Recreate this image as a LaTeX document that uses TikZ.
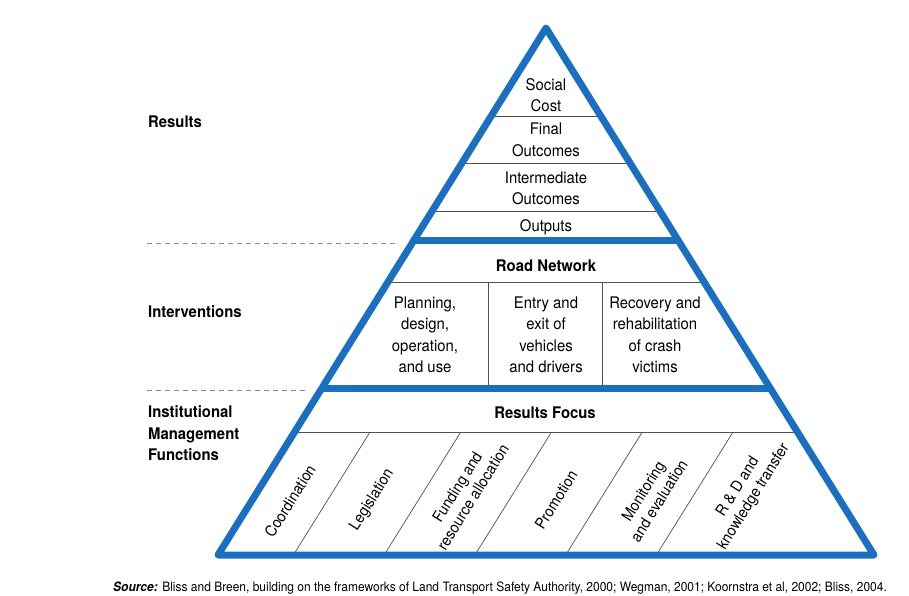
\documentclass[tikz,border=0pt]{standalone}
\usepackage{fontspec}
\setmainfont[FakeStretch=0.93]{TeX Gyre Heros}
\usetikzlibrary{calc}
\definecolor{pyrblue}{HTML}{1B6FC0}
\definecolor{rulegray}{HTML}{505050}
\definecolor{dashgray}{HTML}{8C8C8C}

\begin{document}
\begin{tikzpicture}[x=1pt, y=-1pt,
  every node/.style={font=\fontsize{16}{21.5}\selectfont, align=center, inner sep=0pt},
  sidelabel/.style={font=\fontsize{16}{21.5}\selectfont\bfseries, align=left, anchor=west},
  slanted/.style={rotate=58, font=\fontsize{15.5}{18.5}\selectfont},
  thinrule/.style={rulegray, line width=0.7pt},
  levelrule/.style={dashgray, line width=0.6pt, dash pattern=on 5pt off 4pt},
  pyrline/.style={pyrblue, line width=7pt, line join=round}]

  \useasboundingbox (0,0) rectangle (909,595);

  % ---- Pyramid corners ----
  \coordinate (apex) at (546,28);
  \coordinate (baseL) at (218,555);
  \coordinate (baseR) at (874,555);

  % ---- Thin rules inside the levels ----
  % Results: four stacked bands
  \draw[thinrule] ($(apex)!0.167!(baseL)$) -- ($(apex)!0.167!(baseR)$);
  \draw[thinrule] ($(apex)!0.2562!(baseL)$) -- ($(apex)!0.2562!(baseR)$);
  \draw[thinrule] ($(apex)!0.3472!(baseL)$) -- ($(apex)!0.3472!(baseR)$);

  % Interventions: header band and three columns
  \draw[thinrule] ($(apex)!0.482!(baseL)$) -- ($(apex)!0.482!(baseR)$);
  \draw[thinrule] (488,282) -- (488,388);
  \draw[thinrule] (602,282) -- (602,388);

  % Institutional functions: header band and slanted cells
  \draw[thinrule] ($(apex)!0.7666!(baseL)$) -- ($(apex)!0.7666!(baseR)$);
  \draw[thinrule] (370,432) -- ++(-76.6,123);
  \draw[thinrule] (460.75,432) -- ++(-76.6,123);
  \draw[thinrule] (551.5,432) -- ++(-76.6,123);
  \draw[thinrule] (642.25,432) -- ++(-76.6,123);
  \draw[thinrule] (733,432) -- ++(-76.6,123);

  % ---- Thick outline and level dividers ----
  \draw[pyrline] (apex) -- (baseR) -- (baseL) -- cycle;
  \draw[pyrline] ($(apex)!0.4032!(baseL)$) -- ($(apex)!0.4032!(baseR)$);
  \draw[pyrline] ($(apex)!0.6831!(baseL)$) -- ($(apex)!0.6831!(baseR)$);

  % ---- Level dividers on the left ----
  \draw[levelrule] (147,243) -- (398,243);
  \draw[levelrule] (147,390) -- (307,390);

  % ---- Side labels ----
  \node[sidelabel] (results) at (148,122) {Results};
  \node[sidelabel] (interventions) at (148,312) {Interventions};
  \node[sidelabel] (institutional) at (148,433.5) {Institutional\\Management\\Functions};

  % ---- Results level ----
  \node (socialcost) at (546,95) {Social\\Cost};
  \node (finaloutcomes) at (546,140) {Final\\Outcomes};
  \node (intermediate) at (546,188.5) {Intermediate\\Outcomes};
  \node (outputs) at (546,227) {Outputs};

  % ---- Interventions level ----
  \node[font=\fontsize{16}{21.5}\selectfont\bfseries] (roadnetwork) at (546,266) {Road Network};
  \node (planning) at (425,335) {Planning,\\design,\\operation,\\and use};
  \node (entryexit) at (546,335) {Entry and\\exit of\\vehicles\\and drivers};
  \node (recovery) at (655,335) {Recovery and\\rehabilitation\\of crash\\victims};

  % ---- Institutional management functions ----
  \node[font=\fontsize{16}{21.5}\selectfont\bfseries] (resultsfocus) at (545,413) {Results Focus};
  \node[slanted] (coordination) at (290,501) {Coordination};
  \node[slanted] (legislation) at (372,500) {Legislation};
  \node[slanted] (funding) at (465,492) {Funding and\\resource allocation};
  \node[slanted] (promotion) at (556,500) {Promotion};
  \node[slanted] (monitoring) at (651,496) {Monitoring\\and evaluation};
  \node[slanted] (rnd) at (746,492) {R \& D and\\knowledge transfer};

  % ---- Source line ----
  \node[font=\fontsize{12.9}{15}\selectfont, anchor=west] (source) at (113,588)
    {\textbf{\textit{Source:}} Bliss and Breen, building on the frameworks of Land Transport Safety Authority, 2000; Wegman, 2001; Koornstra et al, 2002; Bliss, 2004.};

\end{tikzpicture}
\end{document}
